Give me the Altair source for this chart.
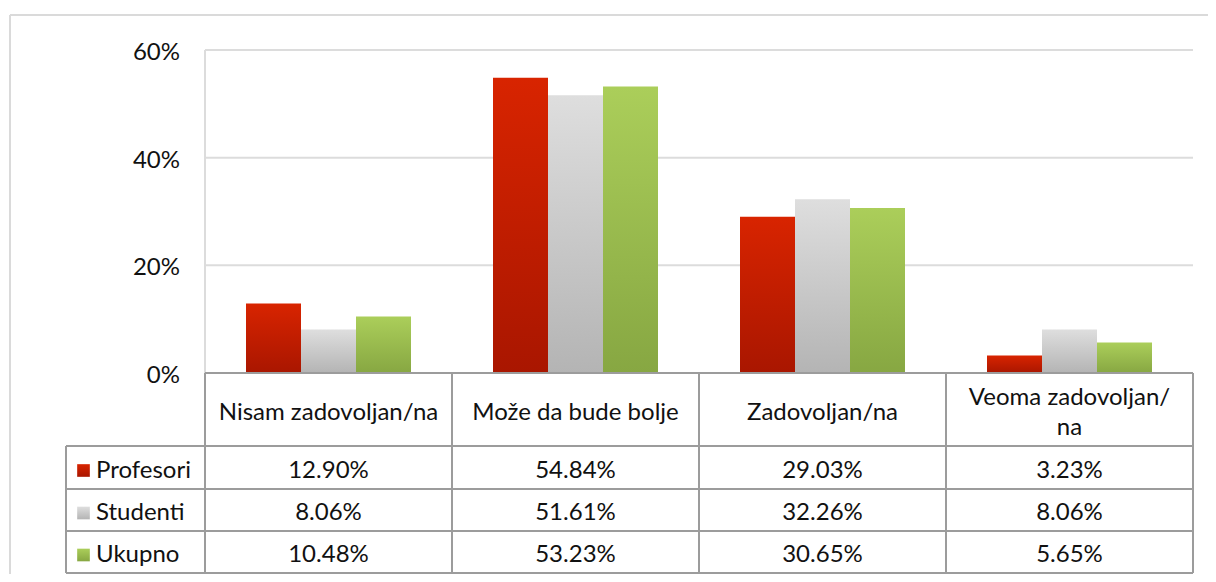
import altair as alt
import pandas as pd

# ---------------- data ----------------
categories = ["Nisam zadovoljan/na", "Može da bude bolje", "Zadovoljan/na", "Veoma zadovoljan/na"]
header_labels = ["Nisam zadovoljan/na", "Može da bude bolje", "Zadovoljan/na", "Veoma zadovoljan/\nna"]
series = ["Profesori", "Studenti", "Ukupno"]
profesori = [0.1290, 0.5484, 0.2903, 0.0323]
studenti = [0.0806, 0.5161, 0.3226, 0.0806]
ukupno = [0.1048, 0.5323, 0.3065, 0.0565]
y_ticks = [0.0, 0.2, 0.4, 0.6]
y_tick_labels = ["0%", "20%", "40%", "60%"]

# ---------------- layout helpers ----------------
W, H = 1200, 566
X0_PX, UNIT_PX = 197, 247.0          # x=0 of category scale, px per category
Y0_PX, YUNIT_PX = 365, 538.33        # y=0 line, px per 1.0 (100%)


def xu(px):
    return (px - X0_PX) / UNIT_PX


def yu(py):
    return (Y0_PX - py) / YUNIT_PX


XDOM = [xu(0), xu(W)]
YDOM = [yu(H), yu(0)]
xs = alt.Scale(domain=XDOM, nice=False, zero=False)
ys = alt.Scale(domain=YDOM, nice=False, zero=False)

FONT = "Lato"
FS = 24
TXT = "#111111"
GRID = "#dcdcdc"
TLINE = "#9c9c9c"
LINE_H = 30

row_px = [365, 438, 481, 523, 565]
legend_left = xu(58)

gradients = {
    "Profesori": ["#d82400", "#a91600"],
    "Studenti": ["#dedede", "#b4b4b4"],
    "Ukupno": ["#abce5a", "#87a742"],
}


def grad(s):
    g0, g1 = gradients[s]
    return {"gradient": "linear", "x1": 0, "x2": 0, "y1": 0, "y2": 1,
            "stops": [{"offset": 0, "color": g0}, {"offset": 1, "color": g1}]}


rows = []
for i, c in enumerate(categories):
    for k, (s, vals) in enumerate(zip(series, [profesori, studenti, ukupno])):
        rows.append({"cat": c, "ci": i, "series": s, "si": k, "value": vals[i]})
df = pd.DataFrame(rows)

base = alt.Chart(df)

X = lambda f: alt.X(f, scale=xs, axis=None)
Y = lambda f: alt.Y(f, scale=ys, axis=None)

# outer frame
frame = alt.Chart(pd.DataFrame({
    "x": [xu(2), xu(2)], "x2": [xu(W + 10), xu(2)],
    "y": [yu(7), yu(7)], "y2": [yu(7), yu(H + 10)],
})).mark_rule(color="#dadada", strokeWidth=2).encode(
    x=X("x:Q"), x2="x2:Q", y=Y("y:Q"), y2="y2:Q")

# gridlines
grid_df = pd.DataFrame({"t": y_ticks[1:], "x": [0.0] * 3, "x2": [float(len(categories))] * 3})
grid = alt.Chart(grid_df).mark_rule(color=GRID, strokeWidth=2).encode(
    y=Y("t:Q"), x=X("x:Q"), x2="x2:Q")
vaxis = alt.Chart(pd.DataFrame({"x": [0.0], "a": [0.0], "b": [max(y_ticks)]})).mark_rule(
    color=GRID, strokeWidth=2).encode(x=X("x:Q"), y=Y("a:Q"), y2="b:Q")

# y labels
ylab = alt.Chart(pd.DataFrame({"t": y_ticks, "lab": y_tick_labels, "x": [xu(172)] * 4})).mark_text(
    align="right", baseline="middle", font=FONT, fontSize=FS, color=TXT, dy=3
).encode(y=Y("t:Q"), x=X("x:Q"), text="lab:N")

# bars
BAR_OFF, BAR_W = 41 / UNIT_PX, 55 / UNIT_PX
bar_layers = []
for s in series:
    b = base.transform_filter(alt.datum.series == s).transform_calculate(
        bx=f"datum.ci + {BAR_OFF} + {BAR_W} * datum.si",
        bx2=f"datum.ci + {BAR_OFF} + {BAR_W} * (datum.si + 1)",
        zero="0",
    ).mark_rect(fill=grad(s)).encode(
        x=X("bx:Q"), x2="bx2:Q", y=Y("value:Q"), y2="zero:Q")
    bar_layers.append(b)

# table lines
h_lines = pd.DataFrame({
    "y": [yu(p) for p in row_px],
    "x": [0.0] + [legend_left] * 4,
    "x2": [float(len(categories))] * 5,
})
hl = alt.Chart(h_lines).mark_rule(color=TLINE, strokeWidth=2).encode(
    y=Y("y:Q"), x=X("x:Q"), x2="x2:Q")
v_lines = pd.DataFrame({
    "x": [legend_left] + [float(i) for i in range(len(categories) + 1)],
    "y": [yu(row_px[1])] + [yu(row_px[0])] * (len(categories) + 1),
    "y2": [yu(row_px[-1])] * (len(categories) + 2),
})
vl = alt.Chart(v_lines).mark_rule(color=TLINE, strokeWidth=2).encode(
    x=X("x:Q"), y=Y("y:Q"), y2="y2:Q")

# header texts (multi-line labels centred as a block)
hdr_center = (row_px[0] + row_px[1]) / 2 + 3
hdr_cy = [yu(hdr_center - LINE_H * (lab.count("\n")) / 2) for lab in header_labels]
hdr = alt.Chart(pd.DataFrame({"ci": list(range(len(categories))), "lab": header_labels,
                              "cy": hdr_cy})).transform_calculate(
    cx="datum.ci + 0.5"
).mark_text(font=FONT, fontSize=FS, color=TXT, baseline="middle", lineBreak="\n",
            lineHeight=LINE_H).encode(
    x=X("cx:Q"), y=Y("cy:Q"), text="lab:N")

# value texts
row_centers = [yu((row_px[k + 1] + row_px[k + 2]) / 2 + 3) for k in range(3)]
vals = base.transform_calculate(
    cx="datum.ci + 0.5",
    cy=f"[{row_centers[0]}, {row_centers[1]}, {row_centers[2]}][datum.si]",
).mark_text(font=FONT, fontSize=FS, color=TXT, baseline="middle").encode(
    x=X("cx:Q"), y=Y("cy:Q"), text=alt.Text("value:Q", format=".2%"))

# legend column
leg_df = pd.DataFrame({"series": series, "cy": row_centers,
                       "sx": [xu(75.5)] * 3, "tx": [xu(88)] * 3})
leg_layers = []
for s in series:
    sq = alt.Chart(leg_df).transform_filter(alt.datum.series == s).mark_square(
        size=160, fill=grad(s), opacity=1, dy=-2).encode(x=X("sx:Q"), y=Y("cy:Q"))
    leg_layers.append(sq)
leg_txt = alt.Chart(leg_df).mark_text(
    font=FONT, fontSize=FS, color=TXT, align="left", baseline="middle").encode(
    x=X("tx:Q"), y=Y("cy:Q"), text="series:N")

chart = alt.layer(
    frame, grid, vaxis, ylab, *bar_layers, hl, vl, hdr, vals, *leg_layers, leg_txt
).properties(
    width=W, height=H, autosize=alt.AutoSizeParams(type="none"), padding=0
).configure_view(stroke=None)

chart.save("out.html", embed_options={"renderer": "svg", "actions": False})
